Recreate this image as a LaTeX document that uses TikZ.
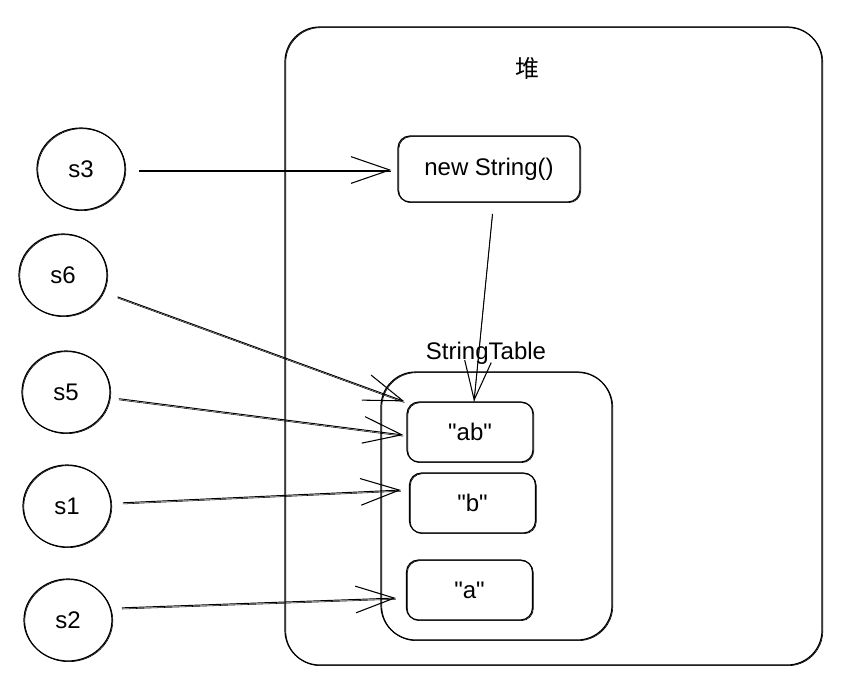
\documentclass[tikz,border=0pt]{standalone}
\usepackage{fontspec}
% plain family without TeX ligature mapping, so " stays a straight quote
\newfontfamily\plainsans{Liberation Sans}
\newfontfamily\cjk{Noto Sans CJK SC}
\usetikzlibrary{arrows.meta,shapes.geometric,calc}

\begin{document}
\begin{tikzpicture}[x=0.75pt,y=-0.75pt,
  every node/.style={font=\plainsans\fontsize{18}{21}\selectfont, inner sep=0pt},
  ink/.style={line width=0.9pt, draw=black},
  sketch/.style={ink, postaction={draw, line width=0.45pt,
      transform canvas={xshift=0.6pt, yshift=-0.5pt}}},
  varbox/.style={sketch, ellipse, minimum width=66pt, minimum height=61.5pt},
  cell/.style={sketch, rounded corners=9pt, minimum width=94.5pt, minimum height=45pt},
  link/.style={line width=0.7pt, shorten <=4pt,
      -{Straight Barb[length=29pt,width=20pt,line width=0.8pt]},
      postaction={draw, line width=0.4pt, -, transform canvas={yshift=-0.9pt}}}
]
\useasboundingbox (0,0) rectangle (841,687);

% heap region
\node[sketch, rounded corners=26pt, minimum width=402.75pt, minimum height=478.5pt] (heap) at (553.5,346) {};
\node (heaplabel) at (527,68) {\cjk 堆};

% object created by new
\node[sketch, rounded corners=9pt, minimum width=136.5pt, minimum height=49.5pt] (obj) at (489,169) {new String()};

% string table
\node[sketch, rounded corners=26pt, minimum width=173.25pt, minimum height=201pt] (table) at (496.5,506) {};
\node (tablelabel) at (486,353) {StringTable};
\node[cell] (ab) at (470,432) {"ab"};
\node[cell] (b) at (472.5,503) {"b"};
\node[cell] (a) at (469.5,590) {"a"};

% variables
\node[varbox] (s3) at (81,169) {s3};
\node[varbox] (s6) at (63,275) {s6};
\node[varbox] (s5) at (66,392) {s5};
\node[varbox] (s1) at (67,506) {s1};
\node[varbox] (s2) at (68,620) {s2};

% references
\draw[link] ($(s3.east)+(8,1)$) -- ($(obj.west)+(-6,1)$);
\draw[link] ($(s6.east)+(5,20)$) -- ($(ab.north west)+(-2,0)$);
\draw[link] ($(s5.east)+(3,6)$) -- ($(ab.west)+(-3,3)$);
\draw[link] ($(s1.east)+(6,-3)$) -- ($(b.west)+(-8,-13)$);
\draw[link] ($(s2.east)+(4,-12)$) -- ($(a.west)+(-10,8)$);
\draw[link] ($(obj.south)+(4,6)$) -- ($(ab.north)+(4,0)$);
\end{tikzpicture}
\end{document}
